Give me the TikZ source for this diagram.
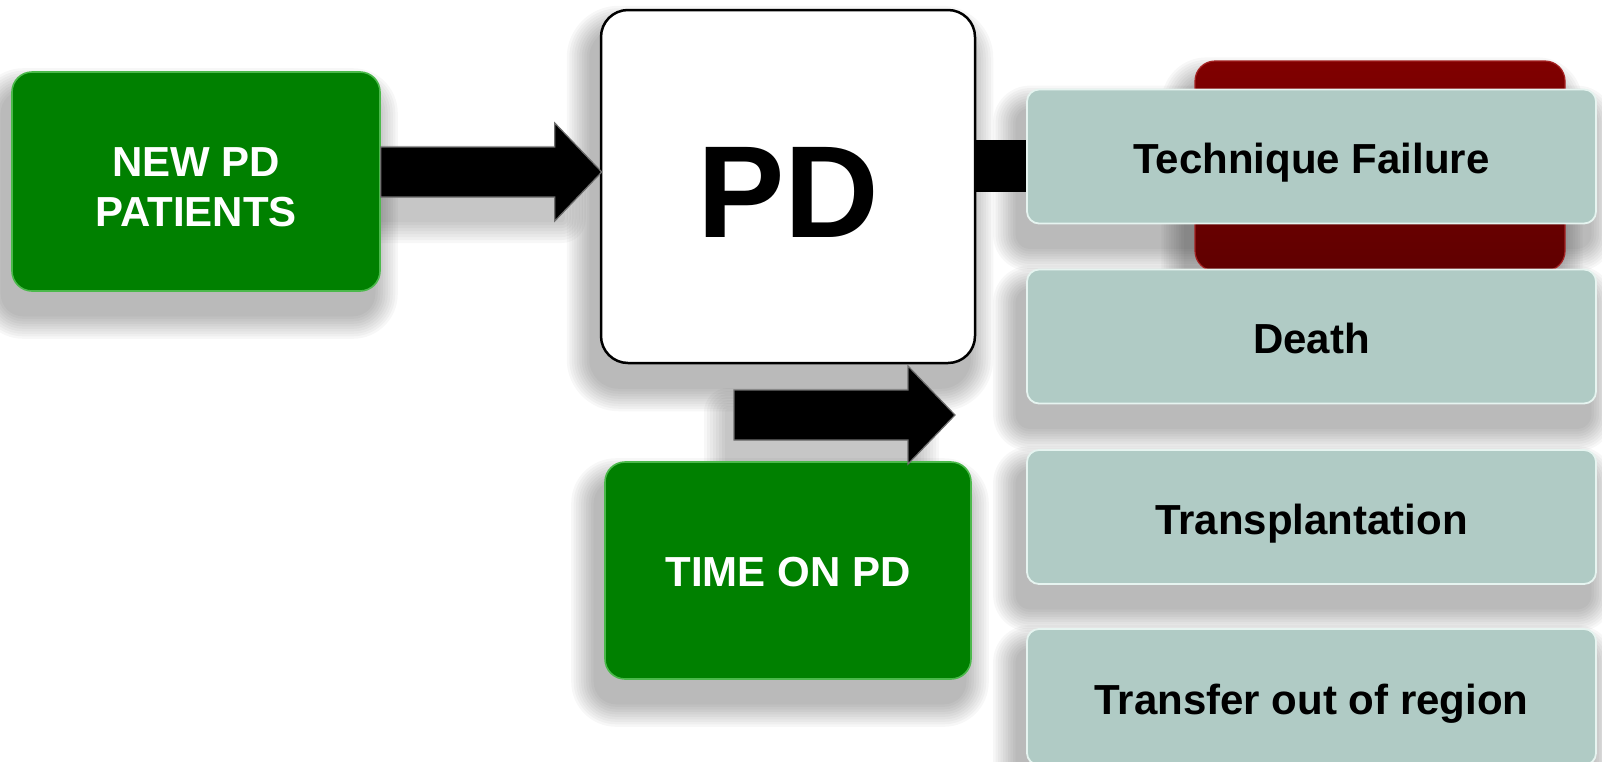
\documentclass[tikz,border=0pt]{standalone}
\usepackage{fontspec}
\setmainfont{Liberation Sans}
\usetikzlibrary{calc,backgrounds}

\definecolor{boxgreen}{RGB}{0,128,0}
\definecolor{greenrim}{RGB}{75,185,75}
\definecolor{sage}{RGB}{176,203,197}
\definecolor{sagerim}{RGB}{230,244,240}
\definecolor{wine}{RGB}{128,0,0}
\definecolor{winedark}{RGB}{96,0,0}
\definecolor{winerim}{RGB}{165,35,35}
\definecolor{bevel}{RGB}{110,110,110}

\tikzset{
  boxtext/.style={font=\bfseries\fontsize{42}{50}\selectfont, align=center, inner sep=0pt},
  greenbox/.style={boxtext, draw=greenrim, line width=1.6pt, fill=boxgreen,
    rounded corners=20pt, text=white},
  sagebox/.style={boxtext, draw=sagerim, line width=1.8pt, fill=sage,
    rounded corners=12pt, text=black, minimum width=569pt, minimum height=134pt,
    text height=34pt, text depth=0pt},
  winebox/.style={draw=winerim, line width=1.2pt, top color=wine, bottom color=winedark,
    rounded corners=20pt, inner sep=0pt},
  pdbox/.style={draw=black, line width=2.5pt, fill=white, rounded corners=27pt,
    font=\bfseries\fontsize{131}{131}\selectfont, inner sep=0pt},
  blockarrow/.style={fill=black, draw=bevel, line width=1.2pt, line join=miter},
  bar/.style={draw=black, line width=52pt}
}

% soft grey shadow under a rounded node
\newcommand\haze[2]{%
  \foreach \k in {1,...,10}{%
    \pgfmathsetmacro\rr{#2+2.5*\k}%
    \fill[black, opacity=0.032, rounded corners=\rr pt]
      ([shift={(-8-2.5*\k,22-2.5*\k)}]#1.north west) rectangle
      ([shift={(-8+2.5*\k,22+2.5*\k)}]#1.south east);}}

% fat horizontal arrow from tail coordinate #1 to tip coordinate #2
\newcommand\blockarrow[2]{%
  \filldraw[blockarrow] let \p1=(#1), \p2=(#2) in
    (\x1,\y1+25pt) -- (\x2-47pt,\y1+25pt) -- (\x2-47pt,\y1+49pt) -- (\x2,\y1)
    -- (\x2-47pt,\y1-49pt) -- (\x2-47pt,\y1-25pt) -- (\x1,\y1-25pt) -- cycle;}

\begin{document}
\begin{tikzpicture}[x=1pt, y=-1pt]
  \useasboundingbox (0,0) rectangle (1602,761);

  % outcome behind the first exit box
  \node[winebox, minimum width=370pt, minimum height=210pt] (fail) at (1380,166) {};

  % main boxes
  \node[pdbox, minimum width=374pt, minimum height=353pt,
        text height=101pt, text depth=0pt] (pd) at (788,186.5) {PD};
  \node[greenbox, minimum width=368pt, minimum height=219pt,
        text height=90pt, text depth=0pt] (newpd) at (196,181.5) {NEW PD\\PATIENTS};
  \node[greenbox, minimum width=366pt, minimum height=217pt,
        text height=32pt, text depth=0pt] (time) at (788,570.5) {TIME ON PD};

  % flow arrows
  \path (0,172) coordinate (lv1) (0,166) coordinate (lv3);
  \coordinate (a1t) at (newpd.east |- lv1);
  \coordinate (a1h) at ([xshift=2]pd.west |- lv1);
  \blockarrow{a1t}{a1h}
  \coordinate (a2t) at (734,415);
  \coordinate (a2h) at (955,415);
  \blockarrow{a2t}{a2h}
  \draw[bar] (pd.east |- lv3) -- (1040,166) coordinate (barend);

  % exit boxes
  \node[sagebox] (tf) at (1311.5,156.5) {Technique Failure};
  \node[sagebox] (death) at (1311.5,336.5) {Death};
  \node[sagebox] (tx) at (1311.5,517) {Transplantation};
  \node[sagebox, minimum height=136pt] (out) at (1311.5,697) {Transfer out of region};

  \begin{scope}[on background layer]
    \haze{newpd}{20}
    \haze{pd}{27}
    \haze{time}{20}
    \haze{fail}{20}
    \haze{tf}{12}
    \haze{death}{12}
    \haze{tx}{12}
    \haze{out}{12}
    \foreach \k in {1,...,8}{%
      \fill[black, opacity=0.03, rounded corners=\k*3pt]
        ([shift={(-6-3*\k,-25+22-3*\k)}]a1t) rectangle ([shift={(-40+3*\k,25+22+3*\k)}]a1h);
      \fill[black, opacity=0.03, rounded corners=\k*3pt]
        ([shift={(-6-3*\k,-25+22-3*\k)}]a2t) rectangle ([shift={(-40+3*\k,25+22+3*\k)}]a2h);}
  \end{scope}
\end{tikzpicture}
\end{document}
